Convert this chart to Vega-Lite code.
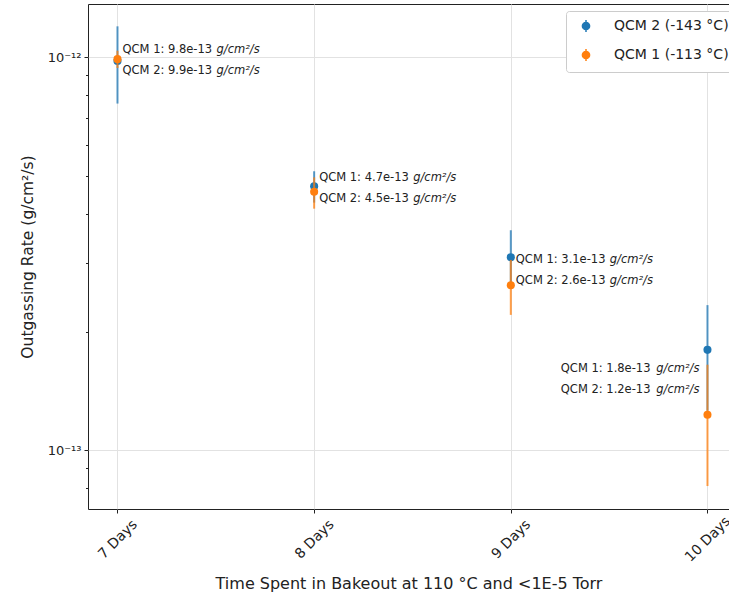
{
  "$schema": "https://vega.github.io/schema/vega-lite/v6.json",
  "width": 641,
  "height": 505,
  "autosize": {"type": "none"},
  "padding": {"left": 88, "top": 4, "right": 0, "bottom": 84},
  "background": "white",
  "config": {
    "font": "DejaVu Sans",
    "view": {"stroke": "#222222", "strokeWidth": 1},
    "axis": {
      "domain": false,
      "gridColor": "#e2e2e2",
      "gridWidth": 1,
      "tickColor": "#222222",
      "labelColor": "#222222",
      "titleColor": "#222222",
      "labelFont": "DejaVu Sans",
      "titleFont": "DejaVu Sans",
      "titleFontWeight": "normal"
    }
  },
  "data": {
    "values": [
      {"day": "7 Days", "series": "QCM 2 (-143 °C)", "value": 9.8e-13, "lo": 7.63e-13, "hi": 1.2e-12, "note": "QCM 1: 9.8e-13"},
      {"day": "7 Days", "series": "QCM 1 (-113 °C)", "value": 9.9e-13, "lo": 9.4e-13, "hi": 1.04e-12, "note": "QCM 2: 9.9e-13"},
      {"day": "8 Days", "series": "QCM 2 (-143 °C)", "value": 4.7e-13, "lo": 4.27e-13, "hi": 5.13e-13, "note": "QCM 1: 4.7e-13"},
      {"day": "8 Days", "series": "QCM 1 (-113 °C)", "value": 4.55e-13, "lo": 4.12e-13, "hi": 4.95e-13, "note": "QCM 2: 4.5e-13"},
      {"day": "9 Days", "series": "QCM 2 (-143 °C)", "value": 3.1e-13, "lo": 2.58e-13, "hi": 3.63e-13, "note": "QCM 1: 3.1e-13"},
      {"day": "9 Days", "series": "QCM 1 (-113 °C)", "value": 2.63e-13, "lo": 2.21e-13, "hi": 3.05e-13, "note": "QCM 2: 2.6e-13"},
      {"day": "10 Days", "series": "QCM 2 (-143 °C)", "value": 1.8e-13, "lo": 1.26e-13, "hi": 2.34e-13, "note": "QCM 1: 1.8e-13"},
      {"day": "10 Days", "series": "QCM 1 (-113 °C)", "value": 1.23e-13, "lo": 8.1e-14, "hi": 1.65e-13, "note": "QCM 2: 1.2e-13"}
    ]
  },
  "transform": [
    {"joinaggregate": [{"op": "mean", "field": "value", "as": "mid"}], "groupby": ["day"]}
  ],
  "encoding": {
    "x": {
      "field": "day",
      "type": "ordinal",
      "sort": ["7 Days", "8 Days", "9 Days", "10 Days"],
      "scale": {"type": "point", "padding": 0.1297, "align": 0.578},
      "axis": {
        "title": "Time Spent in Bakeout at 110 °C and <1E-5 Torr",
        "titleFontSize": 16,
        "titlePadding": 11,
        "labelAngle": -45,
        "labelAlign": "center",
        "labelBaseline": "middle",
        "labelPadding": 26,
        "labelFontSize": 14,
        "tickSize": 4,
        "grid": true
      }
    }
  },
  "layer": [
    {
      "transform": [{"filter": "datum.series == 'QCM 2 (-143 °C)'"}],
      "mark": {"type": "rule", "color": "#1f77b4", "strokeWidth": 2, "opacity": 0.75},
      "encoding": {
        "y": {
          "field": "lo",
          "type": "quantitative",
          "scale": {"type": "log", "domain": [7.08e-14, 1.368e-12], "nice": false},
          "axis": {
            "title": "Outgassing Rate (g/cm²/s)",
            "titleFontSize": 15.5,
            "titlePadding": 12,
            "labelFontSize": 13,
            "labelPadding": 3,
            "values": [8e-14, 9e-14, 1e-13, 2e-13, 3e-13, 4e-13, 5e-13, 6e-13, 7e-13, 8e-13, 9e-13, 1e-12],
            "labelExpr": "datum.value == 1e-12 ? '10⁻¹²' : (datum.value == 1e-13 ? '10⁻¹³' : '')",
            "tickSize": {"condition": {"test": "datum.value == 1e-12 || datum.value == 1e-13", "value": 4}, "value": 2.5},
            "gridOpacity": {"condition": {"test": "datum.value == 1e-12 || datum.value == 1e-13", "value": 1}, "value": 0},
            "grid": true
          }
        },
        "y2": {"field": "hi"}
      }
    },
    {
      "transform": [{"filter": "datum.series == 'QCM 2 (-143 °C)'"}],
      "mark": {"type": "point", "filled": true, "size": 65, "opacity": 1, "strokeWidth": 0},
      "encoding": {
        "y": {"field": "value", "type": "quantitative"},
        "stroke": {
          "field": "series",
          "type": "nominal",
          "scale": {"domain": ["QCM 2 (-143 °C)", "QCM 1 (-113 °C)"], "range": ["#1f77b4", "#ff7f0e"]}
        },
        "color": {
          "field": "series",
          "type": "nominal",
          "scale": {"domain": ["QCM 2 (-143 °C)", "QCM 1 (-113 °C)"], "range": ["#1f77b4", "#ff7f0e"]},
          "legend": {
            "title": null,
            "orient": "none",
            "legendX": 478,
            "legendY": 7,
            "fillColor": "white",
            "strokeColor": "#cccccc",
            "cornerRadius": 3,
            "padding": 8,
            "symbolType": "M0,-1V1M-0.6,0a0.6,0.6 0 1,0 1.2,0a0.6,0.6 0 1,0 -1.2,0",
            "symbolSize": 144,
            "symbolOffset": 5,
            "symbolStrokeWidth": 1.5,
            "labelFontSize": 14,
            "labelFont": "DejaVu Sans",
            "labelColor": "#222222",
            "labelOffset": 21,
            "rowPadding": 11
          }
        }
      }
    },
    {
      "transform": [{"filter": "datum.series == 'QCM 1 (-113 °C)'"}],
      "mark": {"type": "rule", "color": "#ff7f0e", "strokeWidth": 2, "opacity": 0.75},
      "encoding": {
        "y": {"field": "lo", "type": "quantitative"},
        "y2": {"field": "hi"}
      }
    },
    {
      "transform": [{"filter": "datum.series == 'QCM 1 (-113 °C)'"}],
      "mark": {"type": "point", "filled": true, "size": 65, "opacity": 1, "strokeWidth": 0},
      "encoding": {
        "y": {"field": "value", "type": "quantitative"},
        "stroke": {"field": "series", "type": "nominal"},
        "color": {"field": "series", "type": "nominal"}
      }
    },
    {
      "transform": [{"filter": "datum.series == 'QCM 2 (-143 °C)' && datum.day != '10 Days'"}],
      "mark": {"type": "text", "align": "left", "baseline": "middle", "dx": 5, "dy": -10.5, "fontSize": 11.5, "color": "#222222"},
      "encoding": {"y": {"field": "mid", "type": "quantitative"}, "text": {"field": "note"}}
    },
    {
      "transform": [{"filter": "datum.series == 'QCM 2 (-143 °C)' && datum.day != '10 Days'"}],
      "mark": {"type": "text", "align": "left", "baseline": "middle", "dx": 99, "dy": -10.5, "fontSize": 11.5, "fontStyle": "italic", "color": "#222222", "text": "g/cm²/s"},
      "encoding": {"y": {"field": "mid", "type": "quantitative"}}
    },
    {
      "transform": [{"filter": "datum.series == 'QCM 1 (-113 °C)' && datum.day != '10 Days'"}],
      "mark": {"type": "text", "align": "left", "baseline": "middle", "dx": 5, "dy": 10.5, "fontSize": 11.5, "color": "#222222"},
      "encoding": {"y": {"field": "mid", "type": "quantitative"}, "text": {"field": "note"}}
    },
    {
      "transform": [{"filter": "datum.series == 'QCM 1 (-113 °C)' && datum.day != '10 Days'"}],
      "mark": {"type": "text", "align": "left", "baseline": "middle", "dx": 99, "dy": 10.5, "fontSize": 11.5, "fontStyle": "italic", "color": "#222222", "text": "g/cm²/s"},
      "encoding": {"y": {"field": "mid", "type": "quantitative"}}
    },
    {
      "transform": [{"filter": "datum.series == 'QCM 2 (-143 °C)' && datum.day == '10 Days'"}],
      "mark": {"type": "text", "align": "right", "baseline": "middle", "dx": -57, "dy": -10.5, "fontSize": 11.5, "color": "#222222"},
      "encoding": {"y": {"field": "mid", "type": "quantitative"}, "text": {"field": "note"}}
    },
    {
      "transform": [{"filter": "datum.series == 'QCM 2 (-143 °C)' && datum.day == '10 Days'"}],
      "mark": {"type": "text", "align": "right", "baseline": "middle", "dx": -8, "dy": -10.5, "fontSize": 11.5, "fontStyle": "italic", "color": "#222222", "text": "g/cm²/s"},
      "encoding": {"y": {"field": "mid", "type": "quantitative"}}
    },
    {
      "transform": [{"filter": "datum.series == 'QCM 1 (-113 °C)' && datum.day == '10 Days'"}],
      "mark": {"type": "text", "align": "right", "baseline": "middle", "dx": -57, "dy": 10.5, "fontSize": 11.5, "color": "#222222"},
      "encoding": {"y": {"field": "mid", "type": "quantitative"}, "text": {"field": "note"}}
    },
    {
      "transform": [{"filter": "datum.series == 'QCM 1 (-113 °C)' && datum.day == '10 Days'"}],
      "mark": {"type": "text", "align": "right", "baseline": "middle", "dx": -8, "dy": 10.5, "fontSize": 11.5, "fontStyle": "italic", "color": "#222222", "text": "g/cm²/s"},
      "encoding": {"y": {"field": "mid", "type": "quantitative"}}
    }
  ]
}
